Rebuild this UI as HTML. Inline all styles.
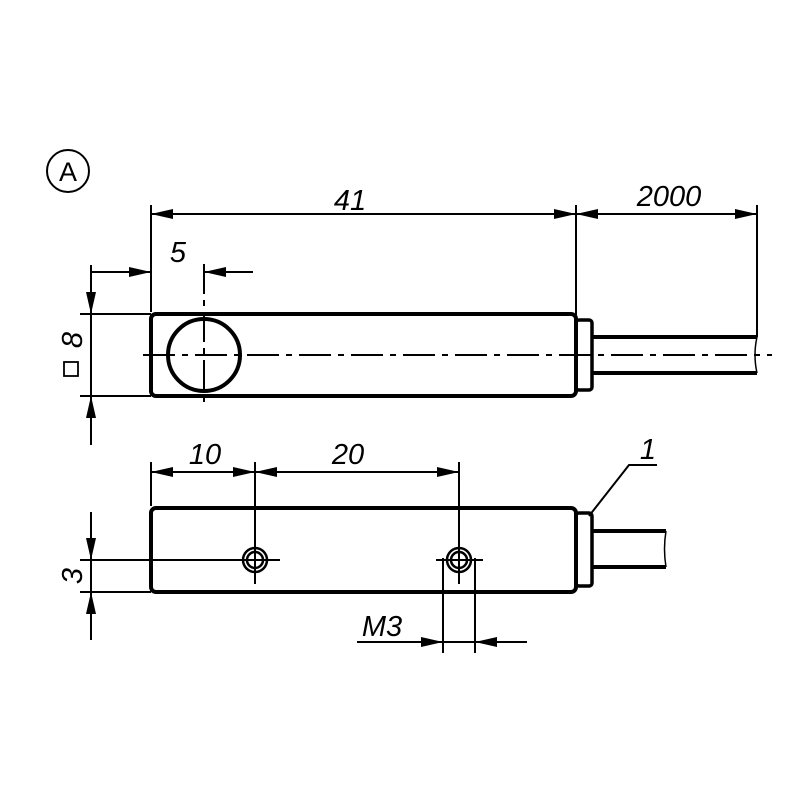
<!DOCTYPE html>
<html><head><style>body{margin:0;background:#fff}svg{display:block}</style></head><body>
<svg width="800" height="800" viewBox="0 0 800 800" xmlns="http://www.w3.org/2000/svg" font-family="Liberation Sans, sans-serif" font-style="italic">
<defs>
<marker id="a" markerWidth="22" markerHeight="10" refX="22" refY="5" orient="auto" markerUnits="userSpaceOnUse"><path d="M0,0 L22,5 L0,10 Z" fill="#000"/></marker>
</defs>
<g fill="none" stroke="#000">
<circle cx="68" cy="171" r="21" stroke-width="2"/>
<rect x="151" y="314" width="425" height="82" rx="5" stroke-width="4"/>
<rect x="576" y="320" width="16" height="70" rx="3" stroke-width="3.5"/>
<line x1="592" y1="337" x2="757" y2="337" stroke-width="4"/>
<line x1="592" y1="373" x2="757" y2="373" stroke-width="4"/>
<path d="M757,337 q-4,18 0,36" stroke-width="1.5"/>
<circle cx="204" cy="355" r="36" stroke-width="4"/>
<line x1="143" y1="355" x2="772" y2="355" stroke-width="2" stroke-dasharray="32,7,6,7"/>
<line x1="204" y1="264" x2="204" y2="403" stroke-width="2" stroke-dasharray="30,6,6,6"/>
<line x1="151" y1="205" x2="151" y2="312" stroke-width="2"/>
<line x1="576" y1="205" x2="576" y2="318" stroke-width="2"/>
<line x1="757" y1="205" x2="757" y2="337" stroke-width="2"/>
<line x1="363" y1="214" x2="151" y2="214" stroke-width="2" marker-end="url(#a)"/>
<line x1="363" y1="214" x2="576" y2="214" stroke-width="2" marker-end="url(#a)"/>
<line x1="666" y1="214" x2="576" y2="214" stroke-width="2" marker-end="url(#a)"/>
<line x1="666" y1="214" x2="757" y2="214" stroke-width="2" marker-end="url(#a)"/>
<line x1="90" y1="272" x2="151" y2="272" stroke-width="2" marker-end="url(#a)"/>
<line x1="253" y1="272" x2="204" y2="272" stroke-width="2" marker-end="url(#a)"/>
<line x1="80" y1="314" x2="151" y2="314" stroke-width="2"/>
<line x1="80" y1="396" x2="151" y2="396" stroke-width="2"/>
<line x1="91" y1="265" x2="91" y2="314" stroke-width="2" marker-end="url(#a)"/>
<line x1="91" y1="445" x2="91" y2="396" stroke-width="2" marker-end="url(#a)"/>
<line x1="91" y1="314" x2="91" y2="396" stroke-width="2"/>
<rect x="151" y="508" width="425" height="84" rx="5" stroke-width="4"/>
<rect x="576" y="513" width="16" height="73" rx="3" stroke-width="3.5"/>
<line x1="592" y1="531" x2="666" y2="531" stroke-width="4"/>
<line x1="592" y1="567" x2="666" y2="567" stroke-width="4"/>
<path d="M666,531 q-3,18 0,36" stroke-width="1.5"/>
<circle cx="255" cy="560" r="12" stroke-width="2.5"/>
<circle cx="255" cy="560" r="8" stroke-width="2.5"/>
<circle cx="459" cy="560" r="12" stroke-width="2.5"/>
<circle cx="459" cy="560" r="8" stroke-width="2.5"/>
<line x1="255" y1="462" x2="255" y2="584" stroke-width="2"/>
<line x1="459" y1="462" x2="459" y2="584" stroke-width="2"/>
<line x1="80" y1="560" x2="280" y2="560" stroke-width="2"/>
<line x1="436" y1="560" x2="483" y2="560" stroke-width="2"/>
<line x1="80" y1="592" x2="151" y2="592" stroke-width="2"/>
<line x1="151" y1="462" x2="151" y2="506" stroke-width="2"/>
<line x1="203" y1="472" x2="151" y2="472" stroke-width="2" marker-end="url(#a)"/>
<line x1="203" y1="472" x2="255" y2="472" stroke-width="2" marker-end="url(#a)"/>
<line x1="357" y1="472" x2="255" y2="472" stroke-width="2" marker-end="url(#a)"/>
<line x1="357" y1="472" x2="459" y2="472" stroke-width="2" marker-end="url(#a)"/>
<line x1="91" y1="512" x2="91" y2="560" stroke-width="2" marker-end="url(#a)"/>
<line x1="91" y1="640" x2="91" y2="592" stroke-width="2" marker-end="url(#a)"/>
<line x1="91" y1="560" x2="91" y2="592" stroke-width="2"/>
<line x1="443" y1="558" x2="443" y2="653" stroke-width="2"/>
<line x1="475" y1="558" x2="475" y2="653" stroke-width="2"/>
<line x1="357" y1="642" x2="443" y2="642" stroke-width="2" marker-end="url(#a)"/>
<line x1="527" y1="642" x2="475" y2="642" stroke-width="2" marker-end="url(#a)"/>
<line x1="443" y1="642" x2="475" y2="642" stroke-width="2"/>
<polyline points="589,516 629,465 657,465" stroke-width="2"/>
<rect x="64" y="362" width="14" height="14" stroke-width="1.8"/>
</g>
<g fill="#000" stroke="#000" stroke-width="1.5">
<line x1="252" y1="560" x2="258" y2="560"/><line x1="255" y1="557" x2="255" y2="563"/>
<line x1="456" y1="560" x2="462" y2="560"/><line x1="459" y1="557" x2="459" y2="563"/>
</g>
<g fill="#000" font-size="29">
<text x="68" y="181" font-style="normal" font-size="27" text-anchor="middle">A</text>
<text x="350" y="210" text-anchor="middle">41</text>
<text x="669" y="206" text-anchor="middle">2000</text>
<text x="178" y="262" text-anchor="middle">5</text>
<text x="205" y="464" text-anchor="middle">10</text>
<text x="348" y="464" text-anchor="middle">20</text>
<text x="382" y="636" text-anchor="middle">M3</text>
<text x="648" y="459" text-anchor="middle">1</text>
<text transform="translate(82,340) rotate(-90)" text-anchor="middle">8</text>
<text transform="translate(82,576) rotate(-90)" text-anchor="middle">3</text>
</g>
</svg>
</body></html>
